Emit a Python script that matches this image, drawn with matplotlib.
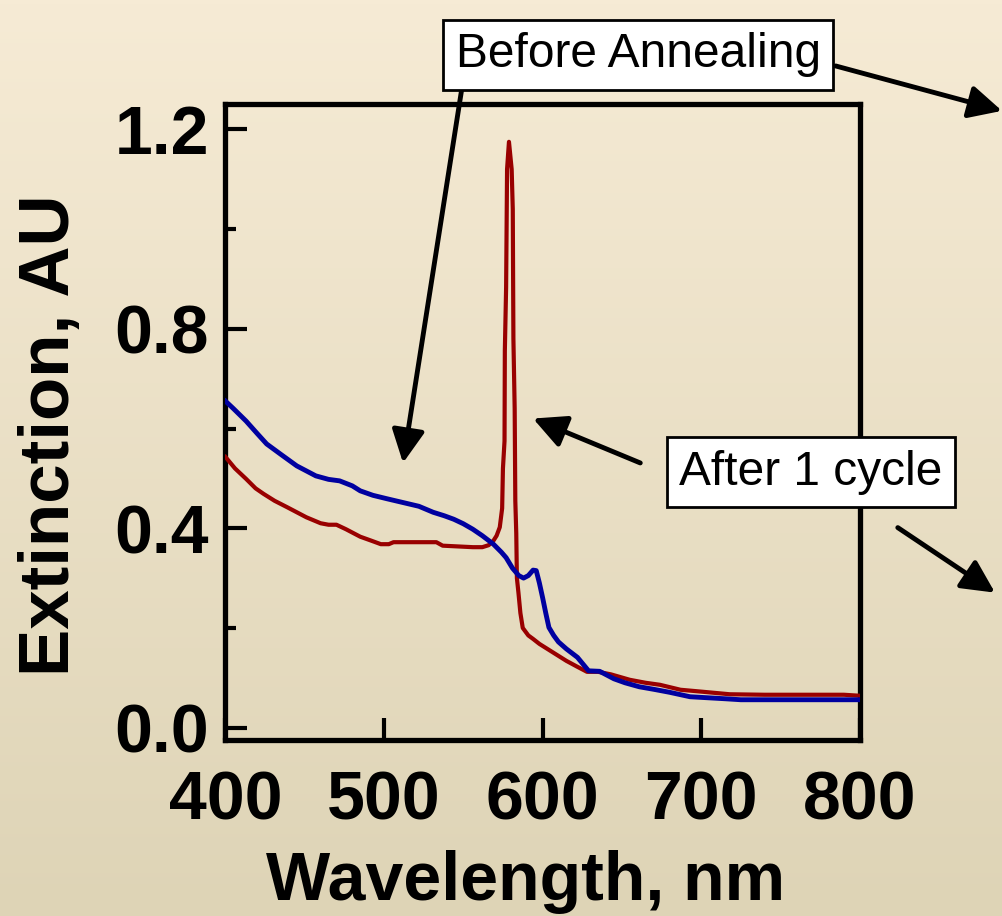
import numpy as np
import matplotlib
matplotlib.use('Agg')
import matplotlib.pyplot as plt
from matplotlib.ticker import MultipleLocator

plt.rcParams['font.family'] = ['Liberation Sans', 'DejaVu Sans']

# before annealing (blue)
before_nm = [400, 405, 413, 420, 426, 435, 445, 457, 465, 472, 480, 485, 493, 502,
             514, 522, 531, 538, 544, 550, 556, 562, 569, 574, 577, 581, 585, 588,
             591, 594, 596, 598, 600, 602, 604, 607, 610, 615, 622, 629, 636, 645,
             652, 661, 670, 680, 693, 704, 715, 725, 740, 760, 780, 800]
before_ext = [0.655, 0.640, 0.615, 0.590, 0.569, 0.548, 0.525, 0.505, 0.498, 0.495,
              0.485, 0.475, 0.466, 0.459, 0.450, 0.444, 0.432, 0.425, 0.418, 0.409,
              0.398, 0.385, 0.368, 0.352, 0.341, 0.320, 0.305, 0.300, 0.305, 0.316,
              0.315, 0.290, 0.261, 0.230, 0.201, 0.185, 0.172, 0.158, 0.141, 0.114,
              0.113, 0.098, 0.090, 0.082, 0.077, 0.071, 0.062, 0.060, 0.058, 0.056,
              0.056, 0.056, 0.056, 0.056]

# after 1 cycle (red)
after_nm = [400, 406, 413, 419, 424, 431, 439, 445, 451, 460, 465, 470, 476, 485,
            492, 498, 503, 506, 533, 537, 556, 562, 566, 569, 571, 573, 574.5, 575,
            576, 576.2, 577, 577.3, 577.6, 578.8, 580.5, 581.2, 581.6, 582.4, 582.8,
            583.4, 583.8, 584.8, 586, 587.5, 591, 594, 598, 603, 609, 615, 622, 628,
            635, 643, 655, 665, 674, 687, 701, 718, 740, 760, 790, 800]
after_ext = [0.543, 0.520, 0.499, 0.480, 0.469, 0.455, 0.442, 0.432, 0.422, 0.410,
             0.407, 0.407, 0.398, 0.383, 0.375, 0.368, 0.368, 0.372, 0.372, 0.365,
             0.362, 0.362, 0.366, 0.375, 0.385, 0.402, 0.440, 0.520, 0.575, 0.756,
             0.883, 1.000, 1.120, 1.175, 1.120, 1.040, 0.780, 0.640, 0.455, 0.390,
             0.300, 0.270, 0.230, 0.200, 0.185, 0.178, 0.168, 0.158, 0.146, 0.134,
             0.122, 0.112, 0.112, 0.107, 0.096, 0.090, 0.086, 0.076, 0.072, 0.067,
             0.066, 0.066, 0.066, 0.064]

x_ticks = [400, 500, 600, 700, 800]
y_ticks = [0.0, 0.4, 0.8, 1.2]

fig = plt.figure(figsize=(10.02, 9.16), dpi=100)

# beige gradient background
bg = fig.add_axes([0, 0, 1, 1], zorder=-10)
top = np.array([246, 235, 213]) / 255
bot = np.array([222, 212, 182]) / 255
t = np.linspace(0, 1, 256)[:, None]
grad = top * (1 - t) + bot * t
bg.imshow(grad[:, None, :], aspect='auto', extent=[0, 1, 0, 1])
bg.axis('off')

ax = fig.add_axes([0.225, 0.192, 0.633, 0.694])
ax.set_facecolor('none')
ax.plot(after_nm, after_ext, color='#990000', lw=3.0, zorder=3)
ax.plot(before_nm, before_ext, color='#0000a0', lw=3.5, zorder=4)

ax.set_xlim(400, 800)
ax.set_ylim(-0.025, 1.25)
ax.set_xticks(x_ticks)
ax.set_yticks(y_ticks)
ax.set_yticklabels(['%.1f' % v for v in y_ticks])
ax.yaxis.set_minor_locator(MultipleLocator(0.2))
ax.tick_params(which='both', direction='in', width=3, colors='black')
ax.tick_params(axis='y', which='major', length=16, pad=12)
ax.tick_params(axis='y', which='minor', length=8)
ax.tick_params(axis='x', which='major', length=16, pad=21)
for lab in ax.get_xticklabels() + ax.get_yticklabels():
    lab.set_fontsize(49)
    lab.set_fontweight('bold')
for s in ax.spines.values():
    s.set_linewidth(3.8)

fig.text(0.525, 1 - 900 / 916, 'Wavelength, nm', fontsize=49, fontweight='bold',
         ha='center', va='baseline')
fig.text(0.051, 1 - 435 / 916, 'Extinction, AU', fontsize=51, fontweight='bold',
         rotation=90, ha='center', va='center')

box = dict(boxstyle='square,pad=0.26', fc='white', ec='black', lw=2)
fig.text(0.6372, 0.940, 'Before Annealing', fontsize=34.5, ha='center', va='center',
         bbox=box, zorder=20)
fig.text(0.8094, 0.4847, 'After 1 cycle', fontsize=34.5, ha='center', va='center',
         bbox=box, zorder=20)

arrow = dict(arrowstyle='-|>,head_length=0.5,head_width=0.25', lw=3.5, color='black',
             mutation_scale=40, shrinkA=0, shrinkB=0)
ax.annotate('', xy=(512, 0.531), xycoords='data', xytext=(0.461, 0.904),
            textcoords='figure fraction', arrowprops=arrow, annotation_clip=False)
ax.annotate('', xy=(594, 0.62), xycoords='data', xytext=(0.639, 0.4946),
            textcoords='figure fraction', arrowprops=arrow, annotation_clip=False)
ax.annotate('', xy=(1.0, 0.879), xycoords='figure fraction', xytext=(0.834, 0.928),
            textcoords='figure fraction', arrowprops=arrow, annotation_clip=False)
ax.annotate('', xy=(0.993, 0.353), xycoords='figure fraction', xytext=(0.896, 0.424),
            textcoords='figure fraction', arrowprops=arrow, annotation_clip=False)

fig.savefig('out.png', dpi=100)
